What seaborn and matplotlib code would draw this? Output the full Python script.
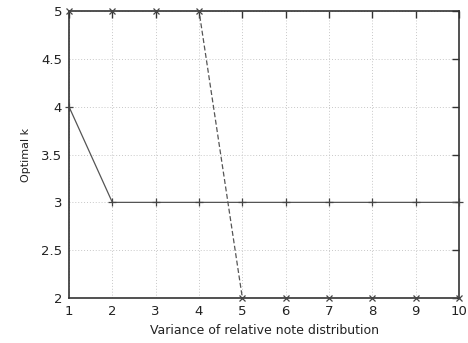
import matplotlib
matplotlib.use("Agg")
import matplotlib.pyplot as plt
import seaborn as sns
import pandas as pd

variance = [1, 2, 3, 4, 5, 6, 7, 8, 9, 10]
series_a = [4, 3, 3, 3, 3, 3, 3, 3, 3, 3]
series_b = [5, 5, 5, 5, 2, 2, 2, 2, 2, 2]
yticks = [2, 2.5, 3, 3.5, 4, 4.5, 5]
ytick_labels = ["2", "2.5", "3", "3.5", "4", "4.5", "5"]

sns.set_style("white")
plt.rcParams['font.family'] = ['DejaVu Sans']

fig = plt.figure(figsize=(4.68, 3.43), dpi=100)
ax = fig.add_axes([0.1474, 0.131, 0.8336, 0.837])

df = pd.DataFrame({"x": variance, "a": series_a, "b": series_b})
sns.lineplot(data=df, x="x", y="a", ax=ax, color="#555555", linewidth=0.9,
             marker="+", markersize=6, markeredgecolor="#444444", markeredgewidth=0.9)
sns.lineplot(data=df, x="x", y="b", ax=ax, color="#555555", linewidth=0.9,
             linestyle=(0, (4, 2)), marker="x", markersize=5,
             markeredgecolor="#444444", markeredgewidth=0.9)
for ln in ax.get_lines():
    ln.set_clip_on(False)

ax.set_xlim(1, 10)
ax.set_ylim(2, 5)
ax.set_xticks(variance)
ax.set_yticks(yticks)
ax.set_yticklabels(ytick_labels)
ax.grid(True, color="#c8c8c8", linestyle=(0, (1, 2)), linewidth=0.7)
ax.tick_params(direction="in", length=5, width=1, colors="#333333",
               top=True, right=True, labelsize=9.5, labelcolor="#222222", pad=5)
for s in ax.spines.values():
    s.set_color("#333333")
    s.set_linewidth(1.2)
    s.set_zorder(1)
ax.set_xlabel("Variance of relative note distribution", fontsize=9, color="#222222", labelpad=4)
ax.set_ylabel("Optimal k", fontsize=8, color="#222222", labelpad=7)

fig.savefig("out.png", dpi=100)
